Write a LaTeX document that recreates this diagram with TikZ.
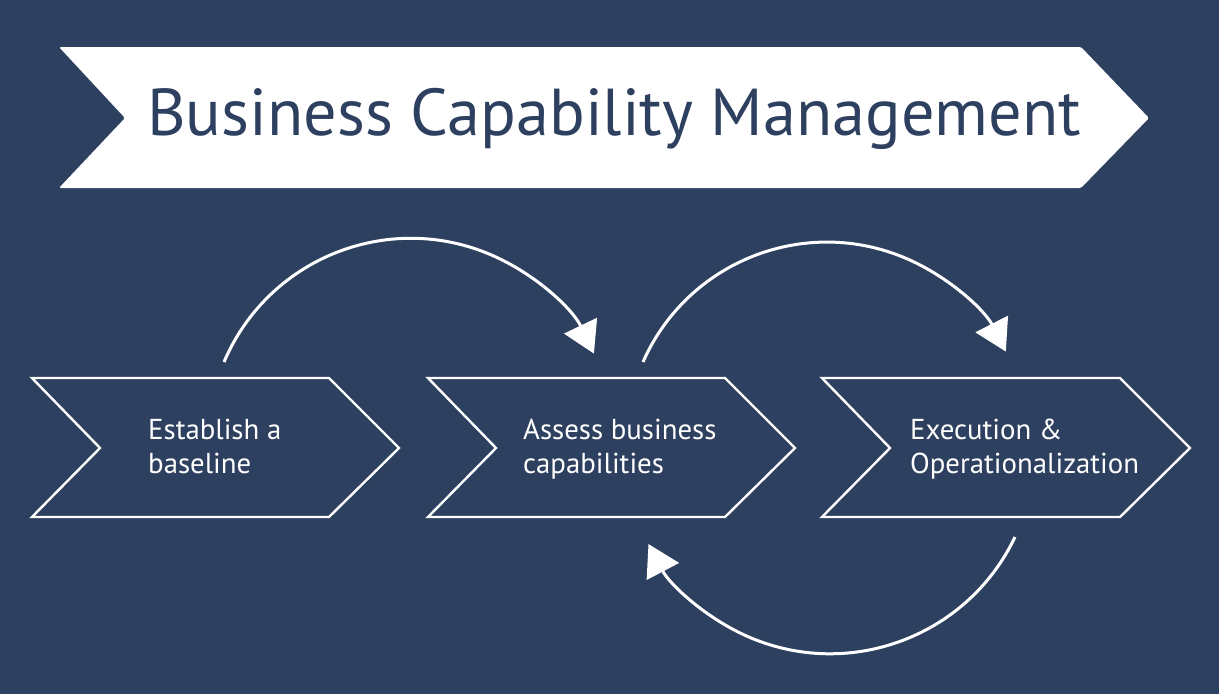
\documentclass[tikz,border=0pt]{standalone}
\usepackage{fontspec}
\setmainfont{PT Sans}
\usetikzlibrary{arrows.meta}
\definecolor{bg}{RGB}{46,64,96}
\begin{document}
\begin{tikzpicture}[x=1pt,y=-1pt,
  chev/.style={draw=white, line width=2.4pt, line join=miter, fill=bg},
  lbl/.style={text=white, font=\fontsize{28.8}{34}\selectfont, align=left, inner sep=0pt, anchor=base west},
  cyc/.style={draw=white, line width=3pt, -{Triangle[length=31pt,width=36pt]}}]
\fill[bg] (0,0) rectangle (1219,694);
\useasboundingbox (0,0) rectangle (1219,694);
% banner
\fill[white, rounded corners=1.5pt] (59,47) -- (1081,47) -- (1149,118) -- (1081,188) -- (59,188) -- (125,118) -- cycle;
\node[text=bg, font=\fontsize{66.3}{66}\selectfont, inner sep=0pt, anchor=base west] (title) at (147,135) {Business Capability Management};
% chevrons
\foreach \x/\w in {32/297,428/297,822/298}{
  \draw[chev] (\x,378) -- ++(\w,0) -- ++(70,70) -- ++(-70,69) -- ++(-\w,0) -- ++(68,-69) -- cycle;
}
\node[lbl] (t1) at (148,473) {Establish a\\baseline};
\node[lbl] (t2) at (523,473) {Assess business\\capabilities};
\node[lbl] (t3) at (910,473) {Execution \&\\Operationalization};
% loops
\coordinate (s1) at (224,362);
\coordinate (s2) at (643,362);
\coordinate (s3) at (1015,537);
\draw[cyc] (s1) arc[start angle=-157, end angle=-25.6, radius=203];
\draw[cyc] (s2) arc[start angle=-156.2, end angle=-27.1, radius=201];
\draw[cyc] (s3) arc[start angle=25.5, end angle=152.3, radius=205];
\end{tikzpicture}
\end{document}
